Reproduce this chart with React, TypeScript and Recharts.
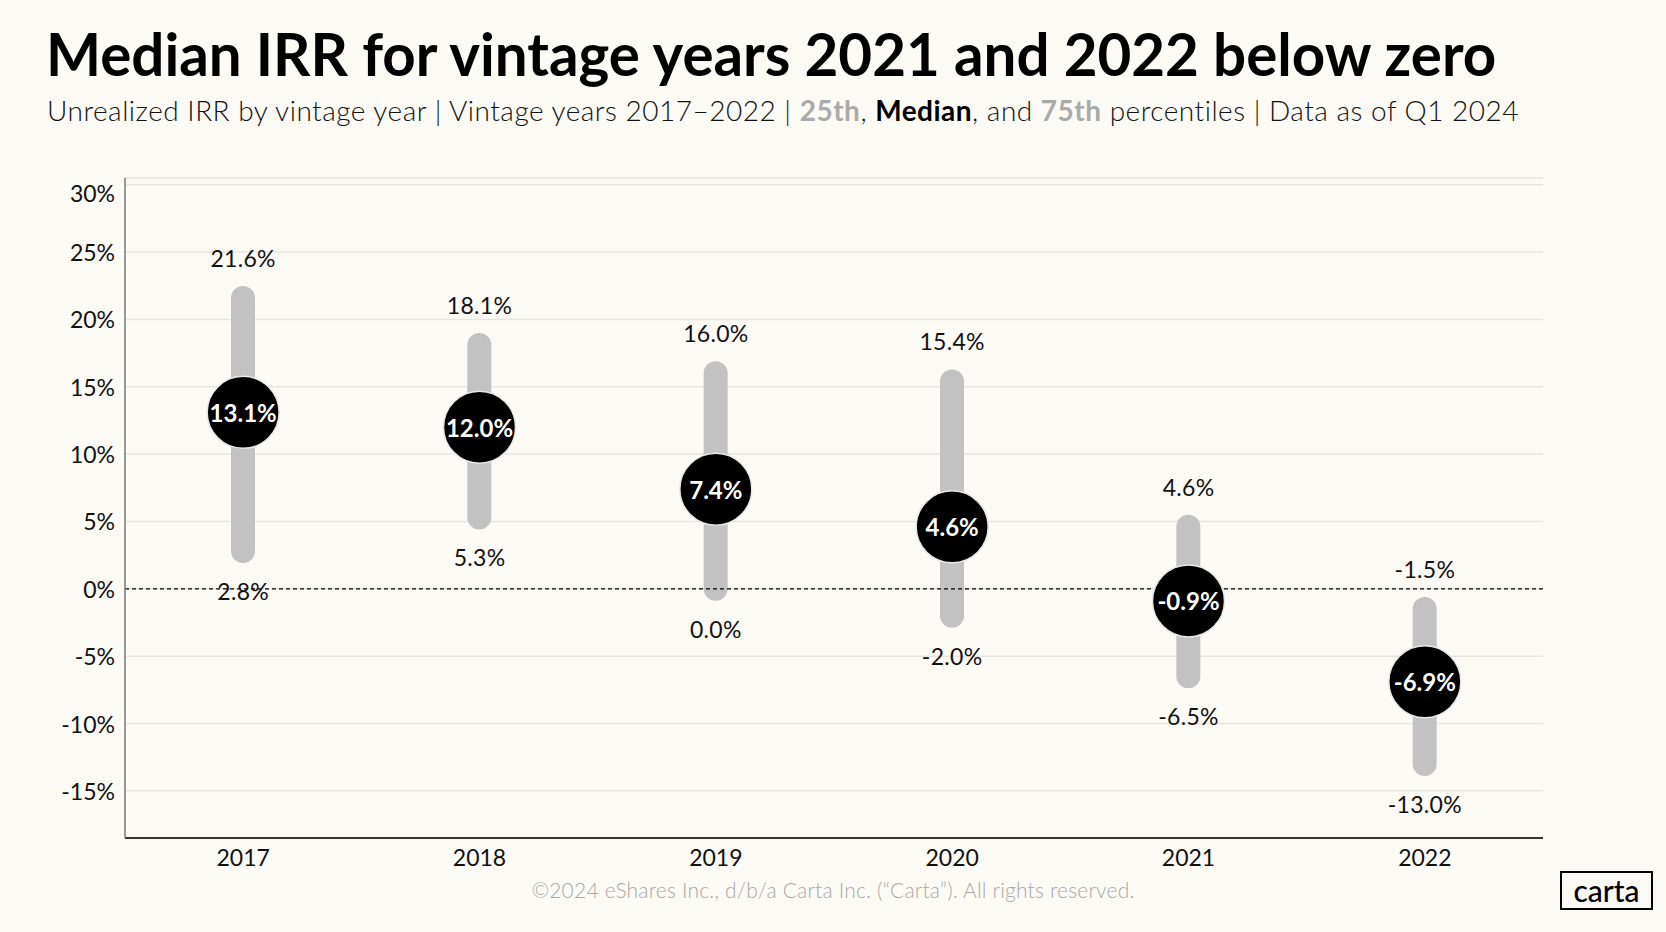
import React from "react";
import {
  ComposedChart,
  Bar,
  Line,
  XAxis,
  YAxis,
  CartesianGrid,
  ReferenceLine,
} from "recharts";

const YEARS = ["2017", "2018", "2019", "2020", "2021", "2022"];
const P25 = [2.8, 5.3, 0.0, -2.0, -6.5, -13.0];
const MEDIAN = [13.1, 12.0, 7.4, 4.6, -0.9, -6.9];
const P75 = [21.6, 18.1, 16.0, 15.4, 4.6, -1.5];
const Y_TICKS = [-15, -10, -5, 0, 5, 10, 15, 20, 25, 30];

const data = YEARS.map((year, i) => ({
  year,
  range: [P25[i], P75[i]],
  p25: P25[i],
  median: MEDIAN[i],
  p75: P75[i],
}));

const FONT = "Lato, 'Open Sans', sans-serif";
const BG = "#fcfaf5";
const BAR_W = 24;

const pct = (v: number) => `${v.toFixed(1)}%`;

const PillBar = (props: any) => {
  const { x, y, width, height } = props;
  const r = BAR_W / 2;
  const cx = x + width / 2;
  return (
    <rect
      x={cx - r}
      y={y - r}
      width={BAR_W}
      height={Math.abs(height) + BAR_W}
      rx={r}
      fill="#c2c2c2"
    />
  );
};

const MedianDot = (props: any) => {
  const { cx, cy, value, index } = props;
  return (
    <g key={`m-${index}`}>
      <circle cx={cx} cy={cy} r={36} fill="#000" stroke="#e8e8e8" strokeWidth={1.5} />
      <text
        x={cx}
        y={cy}
        textAnchor="middle"
        dominantBaseline="central"
        fill="#fff"
        fontFamily={FONT}
        fontWeight={700}
        fontSize={24}
      >
        {pct(value)}
      </text>
    </g>
  );
};

const EdgeLabel = (offset: number) => (props: any) => {
  const { cx, cy, value, index } = props;
  return (
    <text
      key={`e-${offset}-${index}`}
      x={cx}
      y={cy + offset}
      textAnchor="middle"
      dominantBaseline="central"
      fill="#111"
      fontFamily={FONT}
      fontSize={23}
      letterSpacing={0.3}
    >
      {pct(value)}
    </text>
  );
};

// top tick label sits a little below its gridline in the original
const YTick = (props: any) => {
  const { x, y, payload } = props;
  const shift = payload.value === 30 ? 8 : 0;
  return (
    <text
      x={x}
      y={y + shift}
      textAnchor="end"
      dominantBaseline="central"
      fill="#111"
      fontFamily={FONT}
      fontSize={23}
    >
      {`${payload.value}%`}
    </text>
  );
};

export default function App() {
  return (
    <div
      style={{
        position: "absolute",
        left: 0,
        top: 0,
        width: 1666,
        height: 932,
        background: BG,
        fontFamily: FONT,
        overflow: "hidden",
      }}
    >
      <div
        style={{
          position: "absolute",
          left: 46,
          top: 18,
          fontSize: 58.3,
          fontWeight: 700,
          color: "#000",
          whiteSpace: "nowrap",
        }}
      >
        Median IRR for vintage years 2021 and 2022 below zero
      </div>
      <div
        style={{
          position: "absolute",
          left: 47,
          top: 93,
          fontSize: 28,
          fontWeight: 300,
          color: "#111",
          letterSpacing: 0.5,
          whiteSpace: "nowrap",
        }}
      >
        Unrealized IRR by vintage year | Vintage years 2017–2022 |{" "}
        <span style={{ color: "#aaa", fontWeight: 700 }}>25th</span>,{" "}
        <span style={{ color: "#000", fontWeight: 700 }}>Median</span>, and{" "}
        <span style={{ color: "#aaa", fontWeight: 700 }}>75th</span> percentiles | Data as of Q1 2024
      </div>

      <div style={{ position: "absolute", left: 0, top: 0 }}>
        <ComposedChart
          width={1666}
          height={932}
          data={data}
          margin={{ top: 178, right: 123, bottom: 0, left: 65 }}
        >
          <CartesianGrid vertical={false} stroke="#e7e5e0" strokeWidth={1.5} />
          <XAxis
            dataKey="year"
            axisLine={{ stroke: "#333", strokeWidth: 2 }}
            tickLine={false}
            tickMargin={6}
            height={94}
            tick={{ fill: "#111", fontSize: 23, fontFamily: FONT }}
          />
          <YAxis
            type="number"
            domain={[-18.5, 30.5]}
            ticks={Y_TICKS}
            width={60}
            axisLine={{ stroke: "#777", strokeWidth: 1.5 }}
            tickLine={false}
            tickMargin={4}
            tick={<YTick />}
            interval={0}
          />
          <ReferenceLine y={0} stroke="#000" strokeDasharray="4 3" strokeWidth={1.2} />
          <Bar
            dataKey="range"
            barSize={BAR_W}
            shape={<PillBar />}
            isAnimationActive={false}
          />
          <Line
            dataKey="p75"
            stroke="none"
            dot={EdgeLabel(-40)}
            activeDot={false}
            isAnimationActive={false}
          />
          <Line
            dataKey="p25"
            stroke="none"
            dot={EdgeLabel(40)}
            activeDot={false}
            isAnimationActive={false}
          />
          <Line
            dataKey="median"
            stroke="none"
            dot={MedianDot}
            activeDot={false}
            isAnimationActive={false}
          />
        </ComposedChart>
      </div>

      <div
        style={{
          position: "absolute",
          left: 0,
          width: 1666,
          top: 877,
          textAlign: "center",
          fontSize: 21,
          fontWeight: 300,
          letterSpacing: 0.2,
          color: "#a8a8a8",
        }}
      >
        ©2024 eShares Inc., d/b/a Carta Inc. (“Carta”). All rights reserved.
      </div>

      <div
        style={{
          position: "absolute",
          left: 1560,
          top: 871,
          width: 89,
          height: 33,
          border: "2.5px solid #000",
          display: "flex",
          alignItems: "center",
          justifyContent: "center",
          fontSize: 30,
          fontWeight: 500,
          color: "#000",
          lineHeight: 1,
          paddingBottom: 2,
          boxSizing: "content-box",
        }}
      >
        carta
      </div>
    </div>
  );
}
